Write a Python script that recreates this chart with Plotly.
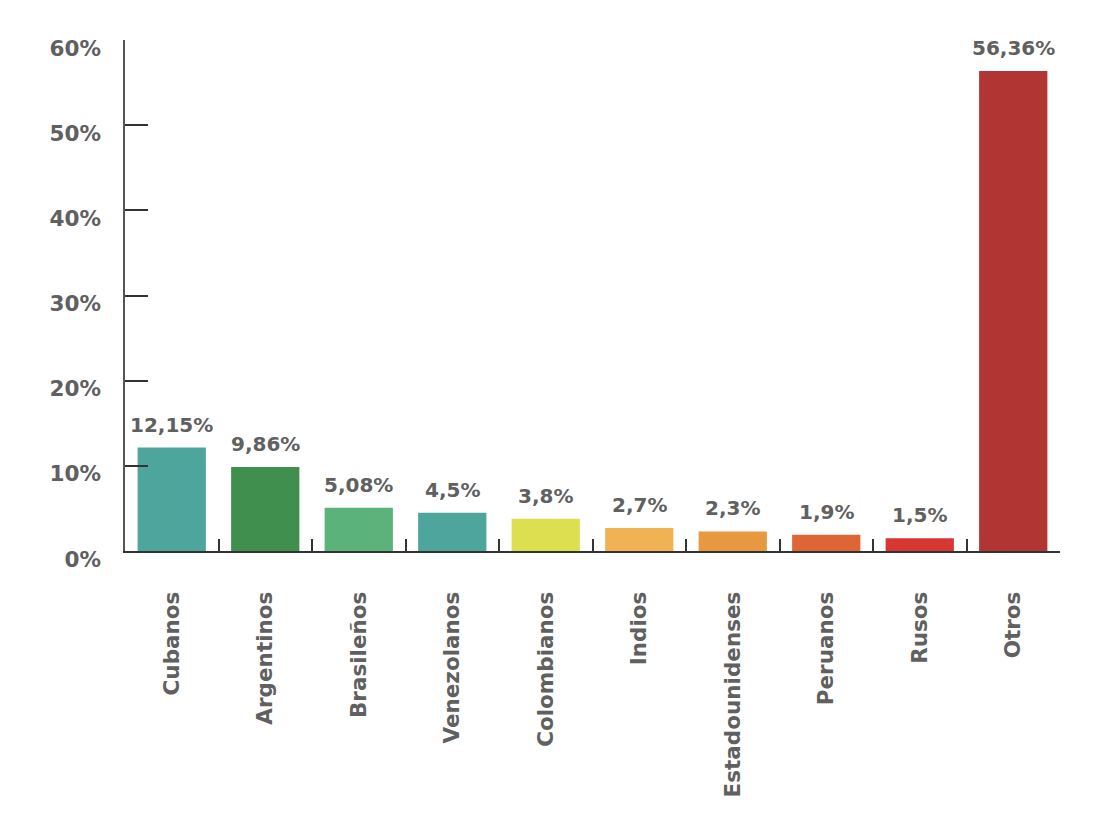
import plotly.graph_objects as go

categories = ["Cubanos", "Argentinos", "Brasileños", "Venezolanos", "Colombianos",
              "Indios", "Estadounidenses", "Peruanos", "Rusos", "Otros"]
values = [12.15, 9.86, 5.08, 4.5, 3.8, 2.7, 2.3, 1.9, 1.5, 56.36]
labels = ["12,15%", "9,86%", "5,08%", "4,5%", "3,8%", "2,7%", "2,3%", "1,9%", "1,5%", "56,36%"]
colors = ["#4EA59C", "#418F4E", "#5BB27A", "#4EA59C", "#DCDF50",
          "#EFB354", "#E8983E", "#DE6536", "#D83632", "#B03533"]
y_ticks = [0, 10, 20, 30, 40, 50, 60]
y_tick_text = ["0%", "10%", "20%", "30%", "40%", "50%", "60%"]

FONT = "DejaVu Sans"
GREY = "#606060"

fig = go.Figure(go.Bar(
    x=categories, y=values, marker_color=colors, marker_line_width=0,
    hoverinfo="x+y",
))

for c, v, t in zip(categories, values, labels):
    fig.add_annotation(
        x=c, y=v, text=t, showarrow=False, yanchor="bottom", yshift=9,
        font=dict(family=FONT, size=20, color=GREY, weight="bold"),
    )

fig.update_layout(
    width=1118, height=826, plot_bgcolor="white", paper_bgcolor="white",
    margin=dict(l=117, r=66, t=32, b=283, autoexpand=False),
    bargap=0.27, showlegend=False,
    font=dict(family=FONT, color=GREY),
)
fig.update_xaxes(
    showline=True, linecolor="#333333", linewidth=2,
    ticks="inside", tickson="boundaries", ticklen=12, tickcolor="#333333", tickwidth=1.5,
    tickangle=-90, tickfont=dict(family=FONT, size=21.5, color=GREY, weight="bold"),
    ticklabelstandoff=30, showgrid=False, automargin=False,
)
fig.update_yaxes(
    range=[0, 60], tickvals=y_ticks, ticktext=y_tick_text,
    showline=True, linecolor="#555555", linewidth=1.5,
    ticks="inside", ticklen=23, tickcolor="#333333", tickwidth=1.5,
    tickfont=dict(family=FONT, size=21.5, color=GREY, weight="bold"),
    ticklabelstandoff=18, ticklabelshift=8, showgrid=False, zeroline=False, automargin=False,
)

fig.write_html("out.html")
